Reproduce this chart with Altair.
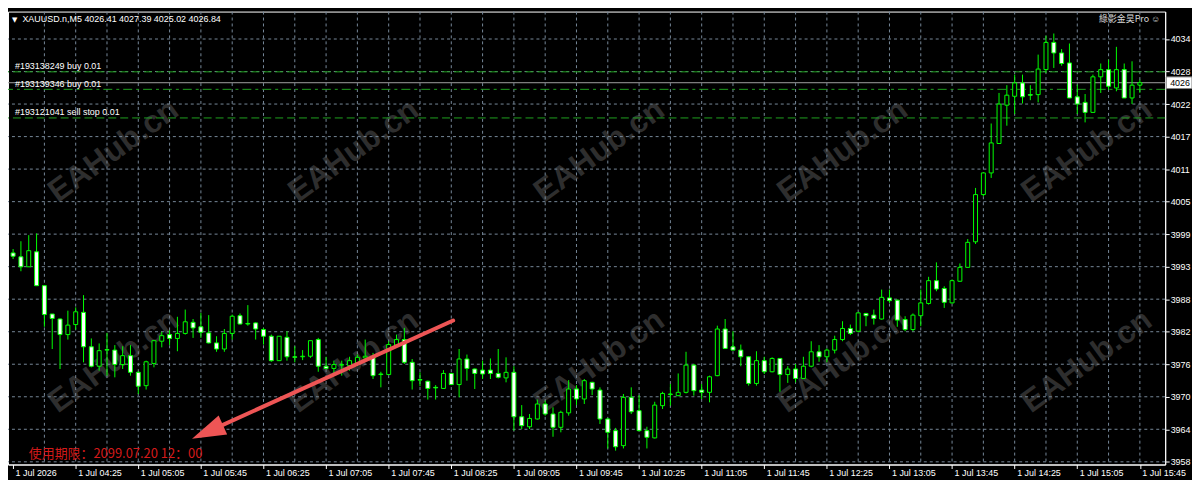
import json
import altair as alt
import pandas as pd

# ---------------- data (XAUUSD.n, M5, 1 Jul) ----------------
opens = [3996.2, 3995.5, 3993.7, 3996.4, 3990.3, 3985.2, 3984.3, 3981.5, 3983.3, 3985.5,
         3979.3, 3975.8, 3978.8, 3978.7, 3976.1, 3977.7, 3974.7, 3972.3, 3976.3, 3980.3,
         3981.5, 3980.8, 3981.7, 3983.7, 3982.9, 3981.8, 3980.0, 3978.9, 3981.7, 3984.9,
         3983.5, 3983.6, 3982.4, 3981.2, 3976.8, 3981.0, 3977.5, 3977.5, 3977.6, 3980.6,
         3975.8, 3975.4, 3976.0, 3975.9, 3976.3, 3977.3, 3977.5, 3974.4, 3974.3, 3979.6,
         3980.6, 3976.5, 3973.4, 3973.1, 3972.0, 3971.8, 3974.5, 3972.5, 3977.1, 3975.3,
         3975.1, 3975.1, 3974.5, 3973.7, 3974.7, 3966.7, 3964.9, 3966.3, 3969.0, 3967.2,
         3964.8, 3967.4, 3971.7, 3969.9, 3972.9, 3971.5, 3966.3, 3964.2, 3961.5, 3970.2,
         3967.8, 3964.2, 3962.9, 3968.7, 3970.7, 3970.5, 3971.1, 3976.0, 3971.5, 3971.1,
         3974.1, 3982.5, 3979.3, 3978.7, 3977.5, 3972.7, 3976.8, 3974.8, 3977.2, 3974.3,
         3975.3, 3973.6, 3975.8, 3978.4, 3977.5, 3978.7, 3980.6, 3982.6, 3982.1, 3985.3,
         3985.0, 3984.3, 3988.1, 3987.7, 3984.2, 3982.4, 3984.9, 3987.1, 3991.2, 3989.8,
         3987.2, 3991.1, 3993.6, 3998.2, 4006.7, 4010.6, 4015.9, 4022.8, 4024.4, 4026.8,
         4024.7, 4024.7, 4029.2, 4034.1, 4032.2, 4030.4, 4024.3, 4023.3, 4021.5, 4027.9,
         4029.2, 4025.9, 4029.2, 4024.1, 4026.41]
highs = [3996.9, 3998.3, 3999.4, 3999.7, 3990.3, 3985.2, 3984.4, 3985.8, 3986.4, 3988.6,
         3980.8, 3979.9, 3981.8, 3979.6, 3979.4, 3979.6, 3974.9, 3976.8, 3980.5, 3982.0,
         3982.3, 3984.7, 3986.0, 3984.3, 3985.4, 3985.0, 3981.2, 3982.5, 3985.1, 3985.3,
         3986.8, 3983.7, 3982.7, 3981.5, 3981.2, 3982.1, 3979.4, 3978.7, 3980.4, 3980.9,
         3977.5, 3976.8, 3976.8, 3977.5, 3977.9, 3980.6, 3978.2, 3974.8, 3980.3, 3981.5,
         3982.7, 3977.1, 3974.7, 3973.2, 3972.4, 3975.1, 3974.6, 3978.9, 3977.9, 3975.4,
         3976.8, 3977.2, 3978.9, 3977.4, 3975.8, 3968.8, 3967.2, 3969.8, 3969.6, 3968.4,
         3967.8, 3973.3, 3972.4, 3973.5, 3973.0, 3972.0, 3966.5, 3964.7, 3970.8, 3972.0,
         3970.6, 3964.9, 3969.4, 3971.2, 3972.6, 3974.5, 3978.4, 3976.2, 3972.6, 3974.1,
         3983.1, 3984.3, 3982.1, 3979.7, 3977.6, 3978.5, 3977.5, 3977.4, 3977.2, 3975.8,
         3976.2, 3977.5, 3980.3, 3979.6, 3979.0, 3981.3, 3983.9, 3983.3, 3985.5, 3985.4,
         3986.0, 3989.6, 3989.6, 3987.8, 3984.8, 3985.3, 3989.6, 3991.9, 3994.5, 3990.2,
         3991.4, 3994.3, 3998.7, 4007.9, 4010.7, 4019.5, 4025.0, 4026.4, 4028.3, 4028.3,
         4026.4, 4031.9, 4035.3, 4035.7, 4032.9, 4033.9, 4026.5, 4024.8, 4028.3, 4030.3,
         4031.0, 4033.3, 4030.3, 4030.7, 4027.39]
lows = [3995.1, 3992.9, 3993.7, 3990.3, 3982.9, 3978.9, 3975.3, 3980.6, 3982.4, 3976.5,
        3975.6, 3975.0, 3974.1, 3973.8, 3975.3, 3974.1, 3970.8, 3971.6, 3975.6, 3979.2,
        3979.6, 3978.5, 3981.5, 3980.9, 3980.9, 3979.9, 3978.4, 3978.4, 3980.6, 3983.3,
        3983.1, 3980.6, 3979.7, 3976.6, 3976.8, 3976.8, 3976.5, 3976.9, 3977.3, 3974.8,
        3975.3, 3974.4, 3974.1, 3975.0, 3975.8, 3976.8, 3973.5, 3972.0, 3974.2, 3979.4,
        3976.2, 3971.6, 3972.2, 3969.8, 3969.8, 3971.7, 3972.4, 3970.2, 3973.2, 3971.7,
        3973.5, 3973.5, 3973.6, 3972.9, 3964.2, 3964.5, 3964.5, 3966.2, 3966.9, 3963.1,
        3963.9, 3966.9, 3968.8, 3969.0, 3970.6, 3965.4, 3961.0, 3960.6, 3961.0, 3967.2,
        3964.1, 3961.0, 3962.8, 3968.1, 3968.7, 3970.4, 3970.9, 3970.5, 3969.9, 3969.3,
        3974.0, 3978.9, 3978.7, 3975.8, 3972.3, 3972.3, 3974.4, 3974.7, 3971.2, 3972.8,
        3972.9, 3973.5, 3975.6, 3976.6, 3976.5, 3978.1, 3980.3, 3981.4, 3981.9, 3983.0,
        3983.3, 3984.2, 3987.2, 3982.9, 3982.1, 3982.1, 3983.0, 3986.9, 3989.3, 3986.3,
        3987.1, 3991.0, 3993.6, 3997.8, 4006.4, 4009.7, 4015.9, 4019.1, 4021.2, 4023.1,
        4023.7, 4023.3, 4028.6, 4029.5, 4029.9, 4024.1, 4021.2, 4019.7, 4021.4, 4025.0,
        4025.6, 4025.3, 4024.1, 4023.0, 4025.02]
closes = [3995.6, 3993.7, 3996.6, 3990.3, 3985.1, 3984.4, 3981.5, 3983.2, 3985.6, 3979.3,
          3975.8, 3978.6, 3978.7, 3976.1, 3977.7, 3974.7, 3972.2, 3976.6, 3980.4, 3981.3,
          3980.8, 3981.7, 3983.8, 3982.7, 3981.9, 3980.0, 3978.9, 3981.7, 3984.8, 3983.4,
          3983.4, 3982.5, 3981.2, 3976.8, 3981.2, 3977.5, 3977.4, 3977.6, 3980.4, 3975.8,
          3975.4, 3976.1, 3976.1, 3976.8, 3977.4, 3977.6, 3974.1, 3974.3, 3979.7, 3980.6,
          3976.5, 3973.2, 3973.3, 3971.8, 3971.9, 3974.5, 3972.5, 3977.1, 3975.4, 3974.5,
          3974.4, 3974.5, 3973.8, 3974.7, 3966.7, 3965.1, 3966.4, 3969.0, 3967.2, 3964.8,
          3967.5, 3971.7, 3969.9, 3973.2, 3971.7, 3966.3, 3963.9, 3961.3, 3970.2, 3967.6,
          3964.2, 3963.0, 3968.8, 3970.9, 3970.8, 3971.1, 3976.0, 3971.4, 3971.1, 3973.9,
          3982.5, 3979.0, 3978.7, 3977.5, 3972.7, 3976.8, 3974.8, 3977.2, 3974.3, 3975.3,
          3973.6, 3975.8, 3978.4, 3977.5, 3978.7, 3980.6, 3982.6, 3981.7, 3985.4, 3984.9,
          3984.4, 3988.2, 3987.6, 3984.1, 3982.4, 3985.0, 3987.2, 3991.2, 3989.7, 3987.3,
          3991.2, 3993.6, 3998.1, 4006.7, 4010.6, 4016.0, 4023.0, 4024.6, 4026.8, 4024.3,
          4024.6, 4029.3, 4034.1, 4032.2, 4030.3, 4024.1, 4023.0, 4021.5, 4027.9, 4029.2,
          4026.2, 4029.2, 4024.1, 4026.4, 4026.84]

time_labels = ["1 Jul 2026", "1 Jul 04:25", "1 Jul 05:05", "1 Jul 05:45", "1 Jul 06:25",
               "1 Jul 07:05", "1 Jul 07:45", "1 Jul 08:25", "1 Jul 09:05", "1 Jul 09:45",
               "1 Jul 10:25", "1 Jul 11:05", "1 Jul 11:45", "1 Jul 12:25", "1 Jul 13:05",
               "1 Jul 13:45", "1 Jul 14:25", "1 Jul 15:05", "1 Jul 15:45"]
time_label_bars = [0, 8, 16, 24, 32, 40, 48, 56, 64, 72, 80, 88, 96, 104, 112, 120, 128, 136, 144]
vgrid_bars = [4, 8, 12, 16, 20, 24, 28, 32, 36, 40, 44, 48, 52, 56, 60, 64, 68, 72, 76, 80,
              84, 88, 92, 96, 100, 104, 108, 112, 116, 120, 124, 128, 132, 136, 140, 144]

y_tick_labels = ["3958", "3964", "3970", "3976", "3982", "3988", "3993", "3999", "4005",
                 "4011", "4017", "4022", "4028", "4034"]
y_tick_prices = [3958.59, 3964.45, 3970.30, 3976.16, 3982.01, 3987.87, 3993.72, 3999.58,
                 4005.43, 4011.29, 4017.14, 4023.00, 4028.85, 4034.71]

order_prices = [4028.8, 4025.65, 4020.5]
order_texts = ["#193138249 buy 0.01", "#193139346 buy 0.01", "#193121041 sell stop 0.01"]
bid_price = 4026.84
title_text = "XAUUSD.n,M5  4026.41 4027.39 4025.02 4026.84"
expiry_text = "使用期限：2099.07.20 12：00"
brand_text = "綠影金昊Pro ☺"
wm_text = "EAHub.cn"
wm_bar = [12.8, 43.5, 74.9, 106.0, 137.2, 12.8, 43.5, 74.9, 106.0, 137.2]
wm_price = [4014.6] * 5 + [3976.7] * 5
arrow_start = (56.24, 3984.04)
arrow_head = (24.84, 3963.99)

# ---------------- styling ----------------
LIME = "#00FF00"
ORDER_GREEN = "#1FA01F"
GRID = "#778899"
FONT = "Liberation Sans"

xs = alt.Scale(domain=[-0.0164, 146.60], nice=False, zero=False)
ys = alt.Scale(domain=[3958.105, 4039.65], nice=False, zero=False)

x_axis = alt.Axis(values=time_label_bars,
                  labelExpr=json.dumps(time_labels) + "[round(datum.value/8)]",
                  grid=False, domainColor="white", tickColor="white", tickSize=4,
                  labelColor="white", labelFont=FONT, labelFontSize=9, labelAlign="left",
                  labelBaseline="top", labelPadding=0, labelOffset=2, labelOverlap=False,
                  labelBound=False, labelFlush=False, title=None)
y_axis = alt.Axis(orient="right", values=y_tick_prices,
                  labelExpr=json.dumps(y_tick_labels) + "[indexof(" + json.dumps(y_tick_prices) + ", datum.value)]",
                  grid=False, domainColor="white", tickColor="white", tickSize=4,
                  labelColor="white", labelFont=FONT, labelFontSize=9, labelPadding=1,
                  labelOverlap=False, labelBound=False, labelFlush=False, title=None)


def X(f):
    return alt.X(f, type="quantitative", scale=xs, axis=x_axis)


def Y(f):
    return alt.Y(f, type="quantitative", scale=ys, axis=y_axis)


candles = pd.DataFrame({"i": list(range(len(opens))), "open": opens, "high": highs,
                        "low": lows, "close": closes})
candles["top"] = candles[["open", "close"]].max(axis=1)
candles["bot"] = candles[["open", "close"]].min(axis=1)
candles["bull"] = candles["close"] > candles["open"]

wm = alt.Chart(pd.DataFrame({"i": wm_bar, "p": wm_price})).mark_text(
    text=wm_text, angle=324, fontSize=32, fontWeight="bold", font=FONT,
    color="#2E2E2E", align="center", baseline="middle", clip=True).encode(x=X("i"), y=Y("p"))

hgrid = alt.Chart(pd.DataFrame({"p": y_tick_prices})).mark_rule(
    color=GRID, strokeDash=[3, 3], strokeWidth=1).encode(y=Y("p"))
vgrid = alt.Chart(pd.DataFrame({"i": vgrid_bars})).mark_rule(
    color=GRID, strokeDash=[3, 3], strokeWidth=1).encode(x=X("i"))

dashes = [[8, 4], [9, 4, 3, 4], [8, 4]]
order_layers = []
for p, d in zip(order_prices, dashes):
    order_layers.append(alt.Chart(pd.DataFrame({"p": [p]})).mark_rule(
        color=ORDER_GREEN, strokeDash=d, strokeWidth=1).encode(y=Y("p")))

bid_line = alt.Chart(pd.DataFrame({"p": [bid_price]})).mark_rule(
    color="#A0A0A0", strokeWidth=1).encode(y=Y("p"))

order_lbl = alt.Chart(pd.DataFrame({"p": order_prices, "t": order_texts})).mark_text(
    align="left", baseline="middle", dy=-5.5, font=FONT, fontSize=9, color="white").encode(
    x=alt.value(7), y=Y("p"), text="t:N")

wicks = alt.Chart(candles).mark_rule(color=LIME, strokeWidth=1, clip=True).encode(
    x=X("i"), y=Y("low"), y2="high")

bodies = alt.Chart(candles).mark_bar(size=4, stroke=LIME, strokeWidth=1, clip=True).encode(
    x=X("i"), y=Y("bot"), y2="top",
    fill=alt.condition("datum.bull", alt.value("black"), alt.value("white")))

arrow_df = pd.DataFrame({"x1": [arrow_start[0]], "y1": [arrow_start[1]],
                         "x2": [arrow_head[0]], "y2": [arrow_head[1]]})
shaft = alt.Chart(arrow_df).mark_rule(color="#EE5555", strokeWidth=4, strokeCap="round").encode(
    x=X("x1"), y=Y("y1"), x2="x2", y2="y2")
head = alt.Chart(arrow_df).mark_point(shape="M0,-1L0.62,1L-0.62,1Z", filled=True, size=1156,
                                      angle=246, color="#EE5555", opacity=1).encode(
    x=X("x2"), y=Y("y2"))

one = pd.DataFrame({"k": [0]})
expiry = alt.Chart(one).mark_text(text=expiry_text, align="left", baseline="middle",
                                  font="Noto Sans CJK SC", fontSize=13, color="#D41A1A").encode(
    x=alt.value(21), y=alt.value(445))
tri = alt.Chart(one).mark_text(text="▼", align="left", baseline="middle", font="DejaVu Sans",
                               fontSize=7, color="white").encode(x=alt.value(4), y=alt.value(8))
title = alt.Chart(one).mark_text(text=title_text, align="left", baseline="middle", font=FONT,
                                 fontSize=9, color="white").encode(x=alt.value(14.5), y=alt.value(8))
brand = alt.Chart(one).mark_text(text=brand_text, align="right", baseline="middle",
                                 font="Noto Sans CJK TC", fontSize=9, color="#D8D8D8").encode(
    x=alt.value(1160), y=alt.value(8))

bid_df = pd.DataFrame({"p": [bid_price], "t": [str(int(bid_price))]})
bid_box = alt.Chart(bid_df).transform_calculate(hi="datum.p + 1.05", lo="datum.p - 1.05").mark_rect(
    fill="white", stroke="#808080", strokeWidth=1).encode(
    x=alt.value(1166), x2=alt.value(1192), y=Y("hi:Q"), y2="lo:Q")
bid_txt = alt.Chart(bid_df).mark_text(align="left", baseline="middle", font=FONT, fontSize=9,
                                      color="black").encode(x=alt.value(1170), y=Y("p"), text="t:N")

chart = alt.layer(wm, hgrid, vgrid, *order_layers, bid_line, order_lbl, wicks, bodies,
                  shaft, head, expiry, tri, title, brand, bid_box, bid_txt).properties(
    width=1165, height=456, background="black",
    padding={"left": 0, "top": 2, "right": 27, "bottom": 14},
    autosize=alt.AutoSizeParams(type="none")).configure_view(stroke="#FFFFFF", strokeWidth=1)

chart.save("out.html", embed_options={"renderer": "svg", "actions": False})
